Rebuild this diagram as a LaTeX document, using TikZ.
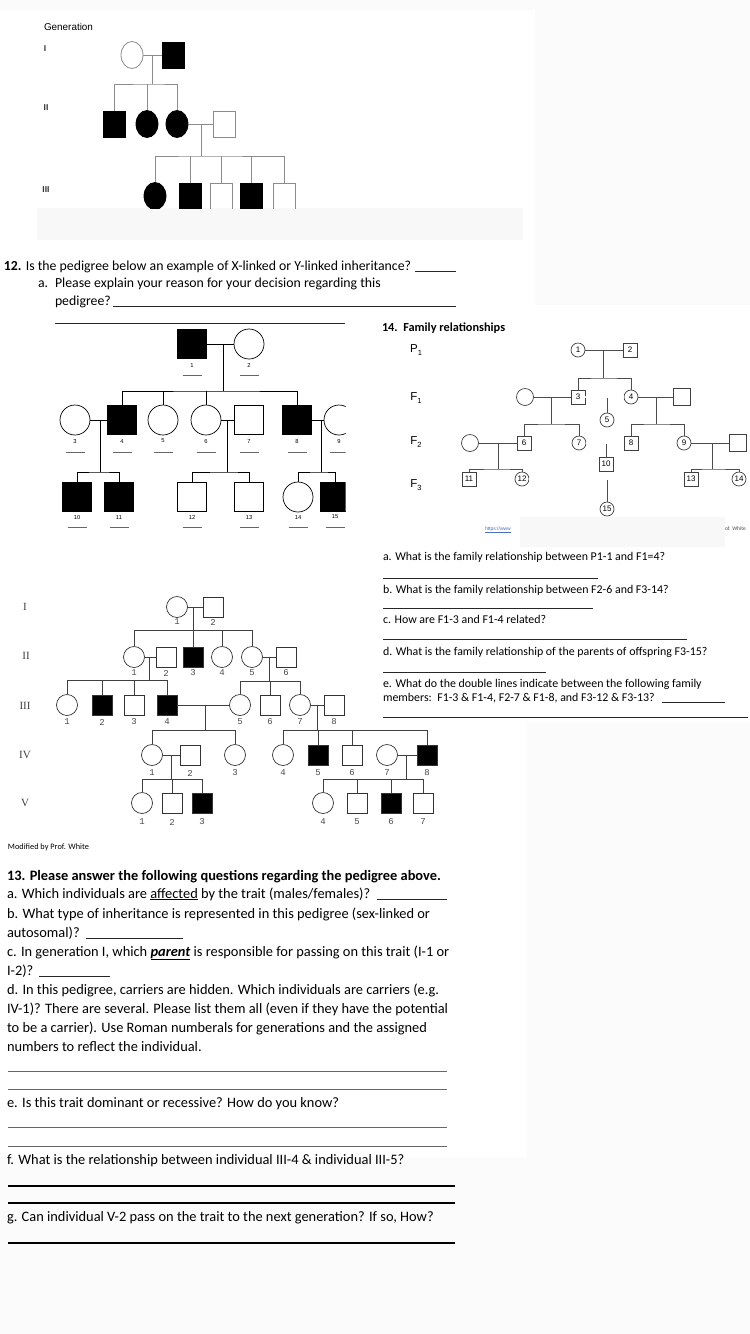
\documentclass[tikz,border=0pt]{standalone}
\usepackage{fontspec}
\setmainfont{Carlito}
\newfontfamily\arialf{Liberation Sans}
\newfontfamily\serf{Liberation Serif}
\newfontfamily\monof{Liberation Mono}
\usetikzlibrary{shapes.geometric}
\definecolor{bgc}{HTML}{FBFBFB}
\definecolor{band}{HTML}{F8F8F8}
\definecolor{tline}{HTML}{8C8C8C}
\definecolor{linkc}{HTML}{4A6FC0}
\tikzset{
  txt/.style={anchor=base west, inner sep=0pt, outer sep=0pt},
  qf/.style={font=\fontsize{13.8}{15}\selectfont},
  qg/.style={font=\fontsize{14.4}{15}\selectfont},
  sf/.style={font=\fontsize{11.9}{13}\selectfont},
  blank/.style={draw=black!85, line width=0.6pt},
  thick blank/.style={draw=black, line width=1.3pt},
  tmale/.style={draw=tline, rectangle, minimum width=22pt, minimum height=26pt, inner sep=0pt, line width=0.8pt},
  tfem/.style={draw=tline, ellipse, minimum width=22pt, minimum height=27pt, inner sep=0pt, line width=0.8pt},
  taff/.style={fill=black, draw=black},
  tconn/.style={draw=tline, line width=0.8pt},
  bmale/.style={draw=black, rectangle, minimum size=29pt, inner sep=0pt, line width=0.7pt},
  bfem/.style={draw=black, circle, minimum size=30pt, inner sep=0pt, line width=0.7pt},
  baff/.style={fill=black},
  bconn/.style={draw=black, line width=0.7pt},
  blab/.style={font=\arialf\fontsize{5.8}{6}\selectfont, inner sep=0pt},
  ulab/.style={draw=black!60, line width=0.6pt},
  fmale/.style={draw=black!75, rectangle, minimum size=14pt, inner sep=0pt, line width=0.7pt, font=\arialf\fontsize{8}{8}\selectfont},
  ffem/.style={draw=black!75, circle, minimum size=14pt, inner sep=0pt, line width=0.7pt, font=\arialf\fontsize{8}{8}\selectfont},
  fbig/.style={minimum size=17pt},
  fconn/.style={draw=black!70, line width=0.7pt},
  fdbl/.style={draw=black!70, line width=0.6pt, double=white, double distance=1.6pt},
  flab/.style={font=\arialf\fontsize{11.5}{11.5}\selectfont, inner sep=0pt},
  lmale/.style={draw=black!80, rectangle, minimum size=20pt, inner sep=0pt, line width=0.7pt},
  lfem/.style={draw=black!80, circle, minimum size=21pt, inner sep=0pt, line width=0.7pt},
  laff/.style={fill=black},
  lconn/.style={draw=black!75, line width=0.7pt},
  llab/.style={font=\monof\fontsize{9}{9}\selectfont, text=black!70, inner sep=0pt},
  lgen/.style={font=\serf\fontsize{11}{11}\selectfont, text=black!75, inner sep=0pt},
  tgen/.style={font=\arialf\bfseries\fontsize{8.5}{9}\selectfont, text=black!80, inner sep=0pt}
}
\begin{document}
\begin{tikzpicture}[x=1pt,y=-1pt]
\useasboundingbox (0,0) rectangle (750,1334);
\fill[bgc] (0,0) rectangle (750,1334);
\fill[white] (0,10) rectangle (535,305);
\fill[white] (0,305) rectangle (750,722);
\fill[white] (0,722) rectangle (527,1157);
\fill[band] (37,208) rectangle (523,240);
\fill[band] (520,517) rectangle (725,547);

% ================= top pedigree =================
\node[txt, font=\arialf\fontsize{9.9}{10}\selectfont] (gen) at (44,30) {Generation};
\node[tgen] (gI) at (45,49) {I};
\node[tgen] (gII) at (46,108) {II};
\node[tgen] (gIII) at (46,190) {III};
\begin{scope}
\clip (30,8) rectangle (305,208);
\node[tfem] (t1) at (132,55) {};
\node[tmale,taff] (t2) at (173,55) {};
\draw[tconn] (t1.east) -- (t2.west);
\coordinate (tm1) at (152,55);
\coordinate (ts1) at (152,84);
\draw[tconn] (tm1) -- (ts1);
\node[tmale,taff] (t3) at (114,124) {};
\node[tfem,taff] (t4) at (147,124) {};
\node[tfem,taff] (t5) at (177,124) {};
\node[tmale] (t6) at (224,124) {};
\draw[tconn] (t3.north) |- (ts1) -| (t5.north);
\draw[tconn] (t4.north) -- (t4.north |- ts1);
\draw[tconn] (t5.east) -- (t6.west);
\coordinate (tm2) at (201,124);
\coordinate (ts2) at (201,156);
\draw[tconn] (tm2) -- (ts2);
\node[tfem,taff] (t7) at (155,196) {};
\node[tmale,taff] (t8) at (190,196) {};
\node[tmale] (t9) at (221,196) {};
\node[tmale,taff] (t10) at (251,196) {};
\node[tmale] (t11) at (284,196) {};
\draw[tconn] (t7.north) |- (ts2) -| (t11.north);
\draw[tconn] (t8.north) -- (t8.north |- ts2);
\draw[tconn] (t9.north) -- (t9.north |- ts2);
\draw[tconn] (t10.north) -- (t10.north |- ts2);
\end{scope}

% ================= question 12 =================
\node[txt,qf] (q12) at (4,270) {\textbf{12.} Is the pedigree below an example of X-linked or Y-linked inheritance?};
\draw[blank] (415,271) -- (456,271);
\node[txt,qf] (q12a) at (38,287) {a.};
\node[txt,qf] (q12b) at (55,287) {Please explain your reason for your decision regarding this};
\node[txt,qf] (q12c) at (55,305) {pedigree?};
\draw[blank] (113,306) -- (456,306);
\draw[blank] (55,323) -- (345,323);

\begin{scope}
\clip (30,324) rectangle (345.5,535);
\node[bmale,baff] (q1) at (192,344) {};
\node[bfem] (q2) at (249,344) {};
\draw[bconn] (q1.east) -- (q2.west);
\coordinate (qm1) at (223,344);
\coordinate (qs1) at (223,391);
\draw[bconn] (qm1) -- (qs1);
\node[bfem] (q3) at (75,420) {};
\node[bmale,baff] (q4) at (122,420) {};
\node[bfem] (q5) at (163,420) {};
\node[bfem] (q6) at (206,420) {};
\node[bmale] (q7) at (249,420) {};
\node[bmale,baff] (q8) at (297,420) {};
\node[bfem] (q9) at (339,420) {};
\draw[bconn] (q4.north) |- (qs1) -| (q8.north);
\draw[bconn] (q5.north) -- (q5.north |- qs1);
\draw[bconn] (q6.north) -- (q6.north |- qs1);
\draw[bconn] (q3.east) -- (q4.west);
\draw[bconn] (q6.east) -- (q7.west);
\draw[bconn] (q8.east) -- (q9.west);
\coordinate (qm2) at (100,420); \coordinate (qs2) at (100,472);
\coordinate (qm3) at (227,420); \coordinate (qs3) at (227,472);
\coordinate (qm4) at (321,420); \coordinate (qs4) at (321,472);
\draw[bconn] (qm2) -- (qs2);
\draw[bconn] (qm3) -- (qs3);
\draw[bconn] (qm4) -- (qs4);
\node[bmale,baff] (q10) at (77,497) {};
\node[bmale,baff] (q11) at (119,497) {};
\node[bmale] (q12n) at (192,497) {};
\node[bmale] (q13) at (249,497) {};
\node[bfem] (q14) at (298,497) {};
\node[bmale,baff] (q15) at (335,497) {};
\draw[bconn] (q10.north) |- (qs2) -| (q11.north);
\draw[bconn] (q12n.north) |- (qs3) -| (q13.north);
\draw[bconn] (q14.north) |- (qs4) -| (q15.north);
\foreach \n/\x in {1/192,2/249} {
  \node[blab] (ql\n) at (\x,365) {\n};
  \draw[ulab] (\x-9.5,375) -- (\x+9.5,375);
}
\foreach \n/\x in {3/75,4/122,5/163,6/206,7/249,8/297,9/339} {
  \node[blab] (ql\n) at (\x,441) {\n};
  \draw[ulab] (\x-9.5,452) -- (\x+9.5,452);
}
\foreach \n/\x in {10/77,11/119,12/192,13/249,14/298,15/335} {
  \node[blab] (ql\n) at (\x,517) {\n};
  \draw[ulab] (\x-9.5,527) -- (\x+9.5,527);
}
\end{scope}

% ================= question 14 =================
\node[txt, font=\bfseries\fontsize{12.3}{13}\selectfont] (q14) at (382,331) {14.\ \ Family relationships};
\node[flab] (P1) at (416,350) {P\raisebox{-3pt}{\fontsize{7.5}{7.5}\selectfont 1}};
\node[flab] (F1) at (416,398) {F\raisebox{-3pt}{\fontsize{7.5}{7.5}\selectfont 1}};
\node[flab] (F2) at (416,442) {F\raisebox{-3pt}{\fontsize{7.5}{7.5}\selectfont 2}};
\node[flab] (F3) at (416,485) {F\raisebox{-3pt}{\fontsize{7.5}{7.5}\selectfont 3}};
\node[ffem] (r1) at (578,350) {1};
\node[fmale] (r2) at (630,350) {2};
\draw[fconn] (r1.east) -- (r2.west);
\coordinate (rm1) at (603,350); \coordinate (rs1) at (603,378);
\draw[fconn] (rm1) -- (rs1);
\node[fmale] (r3) at (578,397) {3};
\node[ffem] (r4) at (631,397) {4};
\draw[fconn] (r3.north) |- (rs1) -| (r4.north);
\node[ffem,fbig] (ru1) at (525,397) {};
\node[fmale,fbig] (ru2) at (682,397) {};
\draw[fconn] (ru1.east) -- (r3.west);
\draw[fconn] (r4.east) -- (ru2.west);
\node[ffem] (r5) at (607,420) {5};
\coordinate (rm5) at (607,397);
\draw[fconn] (rm5) -- (r5.north);
\draw[fdbl] (r3.east) -- (r4.west);
\coordinate (rm2) at (551,397); \coordinate (rs2) at (551,424);
\coordinate (rm3) at (656,397); \coordinate (rs3) at (656,424);
\draw[fconn] (rm2) -- (rs2);
\draw[fconn] (rm3) -- (rs3);
\node[fmale] (r6) at (524,443) {6};
\node[ffem] (r7) at (579,443) {7};
\node[fmale] (r8) at (631,443) {8};
\node[ffem] (r9) at (684,443) {9};
\draw[fconn] (r6.north) |- (rs2) -| (r7.north);
\draw[fconn] (r8.north) |- (rs3) -| (r9.north);
\node[ffem,fbig] (ru3) at (470,443) {};
\node[fmale,fbig] (ru4) at (738,443) {};
\draw[fconn] (ru3.east) -- (r6.west);
\draw[fconn] (r9.east) -- (ru4.west);
\node[fmale] (r10) at (606,464) {10};
\coordinate (rm10) at (606,443);
\draw[fconn] (rm10) -- (r10.north);
\draw[fdbl] (r7.east) -- (r8.west);
\coordinate (rm4) at (498,443); \coordinate (rs4) at (498,469);
\coordinate (rm6) at (712,443); \coordinate (rs6) at (712,469);
\draw[fconn] (rm4) -- (rs4);
\draw[fconn] (rm6) -- (rs6);
\node[fmale] (r11) at (469,479) {11};
\node[ffem] (r12) at (522,479) {12};
\node[fmale] (r13) at (691,479) {13};
\node[ffem] (r14) at (739,479) {14};
\draw[fconn] (r11.north) |- (rs4) -| (r12.north);
\draw[fconn] (r13.north) |- (rs6) -| (r14.north);
\node[ffem] (r15) at (607,509) {15};
\coordinate (rm15) at (607,479);
\draw[fconn] (rm15) -- (r15.north);
\draw[fdbl] (r12.east) -- (r13.west);
\node[txt, font=\arialf\fontsize{5}{5}\selectfont, text=linkc] (link) at (485,530) {\underline{https://www}};
\node[txt, font=\fontsize{5.5}{6}\selectfont, text=black!70] (ofw) at (725,530) {of. White};

\node[txt,sf] (q14a) at (383,560) {a. What is the family relationship between P1-1 and F1=4?};
\draw[blank] (383,578) -- (598,578);
\node[txt,sf] (q14b) at (383,593) {b. What is the family relationship between F2-6 and F3-14?};
\draw[blank] (383,608) -- (593,608);
\node[txt,sf] (q14c) at (383,623) {c. How are F1-3 and F1-4 related?};
\draw[blank] (383,639) -- (687,639);
\node[txt,sf] (q14d) at (383,655) {d. What is the family relationship of the parents of offspring F3-15?};
\draw[blank] (383,672) -- (546,672);
\node[txt,sf] (q14e) at (383,687) {e. What do the double lines indicate between the following family};
\node[txt,sf] (q14e2) at (383,701) {members:\ \ F1-3 \& F1-4, F2-7 \& F1-8, and F3-12 \& F3-13?};
\draw[blank] (662,702) -- (725,702);
\draw[blank] (383,717) -- (748,717);

% ================= lower pedigree =================
\node[lgen] (LI) at (25,607) {I};
\node[lgen] (LII) at (26,656) {II};
\node[lgen] (LIII) at (25,706) {III};
\node[lgen] (LIV) at (25,755) {IV};
\node[lgen] (LV) at (25,803) {V};
\node[lfem] (pI1) at (177,607) {};
\node[lmale] (pI2) at (213,607) {};
\draw[lconn] (pI1.east) -- (pI2.west);
\coordinate (pm1) at (193,607); \coordinate (ps1) at (193,630);
\draw[lconn] (pm1) -- (ps1);
\node[lfem] (pII1) at (134,657) {};
\node[lmale] (pII2) at (166,657) {};
\node[lmale,laff] (pII3) at (193,657) {};
\node[lfem] (pII4) at (222,657) {};
\node[lfem] (pII5) at (252,657) {};
\node[lmale] (pII6) at (286,657) {};
\draw[lconn] (pII1.north) |- (ps1) -| (pII5.north);
\draw[lconn] (pII3.north) -- (pII3.north |- ps1);
\draw[lconn] (pII4.north) -- (pII4.north |- ps1);
\draw[lconn] (pII1.east) -- (pII2.west);
\draw[lconn] (pII5.east) -- (pII6.west);
\coordinate (pm2) at (149,657); \coordinate (ps2) at (149,680);
\coordinate (pm3) at (269,657); \coordinate (ps3) at (269,681);
\draw[lconn] (pm2) -- (ps2);
\draw[lconn] (pm3) -- (ps3);
\node[lfem] (pIII1) at (67,705) {};
\node[lmale,laff] (pIII2) at (102,705) {};
\node[lmale] (pIII3) at (134,705) {};
\node[lmale,laff] (pIII4) at (167,705) {};
\node[lfem] (pIII5) at (240,705) {};
\node[lmale] (pIII6) at (270,705) {};
\node[lfem] (pIII7) at (300,705) {};
\node[lmale] (pIII8) at (334,705) {};
\draw[lconn] (pIII1.north) |- (ps2) -| (pIII4.north);
\draw[lconn] (pIII2.north) -- (pIII2.north |- ps2);
\draw[lconn] (pIII3.north) -- (pIII3.north |- ps2);
\draw[lconn] (pIII5.north) |- (ps3) -| (pIII7.north);
\draw[lconn] (pIII6.north) -- (pIII6.north |- ps3);
\draw[lconn] (pIII4.east) -- (pIII5.west);
\draw[lconn] (pIII7.east) -- (pIII8.west);
\coordinate (pm4) at (205,705); \coordinate (ps4) at (205,730);
\coordinate (pm5) at (317,705); \coordinate (ps5) at (317,730);
\draw[lconn] (pm4) -- (ps4);
\draw[lconn] (pm5) -- (ps5);
\node[lfem] (pIV1) at (152,755) {};
\node[lmale] (pIV2) at (190,755) {};
\node[lfem] (pIV3) at (235,755) {};
\node[lfem] (pIV4) at (283,755) {};
\node[lmale,laff] (pIV5) at (318,755) {};
\node[lmale] (pIV6) at (352,755) {};
\node[lfem] (pIV7) at (387,755) {};
\node[lmale,laff] (pIV8) at (427,755) {};
\draw[lconn] (pIV1.north) |- (ps4) -| (pIV3.north);
\draw[lconn] (pIV4.north) |- (ps5) -| (pIV8.north);
\draw[lconn] (pIV5.north) -- (pIV5.north |- ps5);
\draw[lconn] (pIV6.north) -- (pIV6.north |- ps5);
\draw[lconn] (pIV1.east) -- (pIV2.west);
\draw[lconn] (pIV7.east) -- (pIV8.west);
\coordinate (pm6) at (171,755); \coordinate (ps6) at (171,779);
\coordinate (pm7) at (406,755); \coordinate (ps7) at (406,779);
\draw[lconn] (pm6) -- (ps6);
\draw[lconn] (pm7) -- (ps7);
\node[lfem] (pV1) at (142,803) {};
\node[lmale] (pV2) at (172,803) {};
\node[lmale,laff] (pV3) at (202,803) {};
\node[lfem] (pV4) at (323,803) {};
\node[lmale] (pV5) at (357,803) {};
\node[lmale,laff] (pV6) at (391,803) {};
\node[lmale] (pV7) at (423,803) {};
\draw[lconn] (pV1.north) |- (ps6) -| (pV3.north);
\draw[lconn] (pV2.north) -- (pV2.north |- ps6);
\draw[lconn] (pV4.north) |- (ps7) -| (pV7.north);
\draw[lconn] (pV5.north) -- (pV5.north |- ps7);
\draw[lconn] (pV6.north) -- (pV6.north |- ps7);
\foreach \n/\x in {1/177,2/213} {\node[llab] (lI\n) at (\x,622) {\n};}
\foreach \n/\x in {1/134,2/166,3/193,4/222,5/252,6/286} {\node[llab] (lII\n) at (\x,673) {\n};}
\foreach \n/\x in {1/67,2/102,3/134,4/167,5/240,6/270,7/300,8/334} {\node[llab] (lIII\n) at (\x,722) {\n};}
\foreach \n/\x in {1/152,2/190,3/235,4/283,5/318,6/352,7/387,8/427} {\node[llab] (lIV\n) at (\x,773) {\n};}
\foreach \n/\x in {1/142,2/172,3/202,4/323,5/357,6/391,7/423} {\node[llab] (lV\n) at (\x,822) {\n};}
\node[txt, font=\fontsize{8.3}{9}\selectfont] (mod) at (8,849) {Modified by Prof. White};

% ================= question 13 =================
\node[txt,qg] (q13) at (7,880) {\textbf{13. Please answer the following questions regarding the pedigree above.}};
\node[txt,qg] (q13a) at (7,898) {a. Which individuals are \underline{affected} by the trait (males/females)?};
\draw[blank] (377,899) -- (447,899);
\node[txt,qg] (q13b) at (7,918) {b. What type of inheritance is represented in this pedigree (sex-linked or};
\node[txt,qg] (q13b2) at (7,937) {autosomal)?};
\draw[blank] (86,938) -- (183,938);
\node[txt,qg] (q13c) at (7,956) {c. In generation I, which \textbf{\textit{\underline{parent}}} is responsible for passing on this trait (I-1 or};
\node[txt,qg] (q13c2) at (7,975) {I-2)?};
\draw[blank] (39,976) -- (110,976);
\node[txt,qg] (q13d) at (7,994) {d. In this pedigree, carriers are hidden. Which individuals are carriers (e.g.};
\node[txt,qg] (q13d2) at (7,1013) {IV-1)? There are several. Please list them all (even if they have the potential};
\node[txt,qg] (q13d3) at (7,1032) {to be a carrier). Use Roman numberals for generations and the assigned};
\node[txt,qg] (q13d4) at (7,1051) {numbers to reflect the individual.};
\draw[blank, draw=black!60] (8,1071) -- (447,1071);
\draw[blank, draw=black!60] (8,1089) -- (447,1089);
\node[txt,qg] (q13e) at (7,1107) {e. Is this trait dominant or recessive? How do you know?};
\draw[blank, draw=black!60] (8,1127) -- (447,1127);
\draw[blank, draw=black!60] (8,1146) -- (447,1146);
\node[txt,qg] (q13f) at (7,1164) {f. What is the relationship between individual III-4 \& individual III-5?};
\draw[thick blank] (8,1186) -- (455,1186);
\draw[thick blank] (8,1203) -- (455,1203);
\node[txt,qg] (q13g) at (7,1221) {g. Can individual V-2 pass on the trait to the next generation? If so, How?};
\draw[thick blank] (8,1243) -- (455,1243);
\end{tikzpicture}
\end{document}
